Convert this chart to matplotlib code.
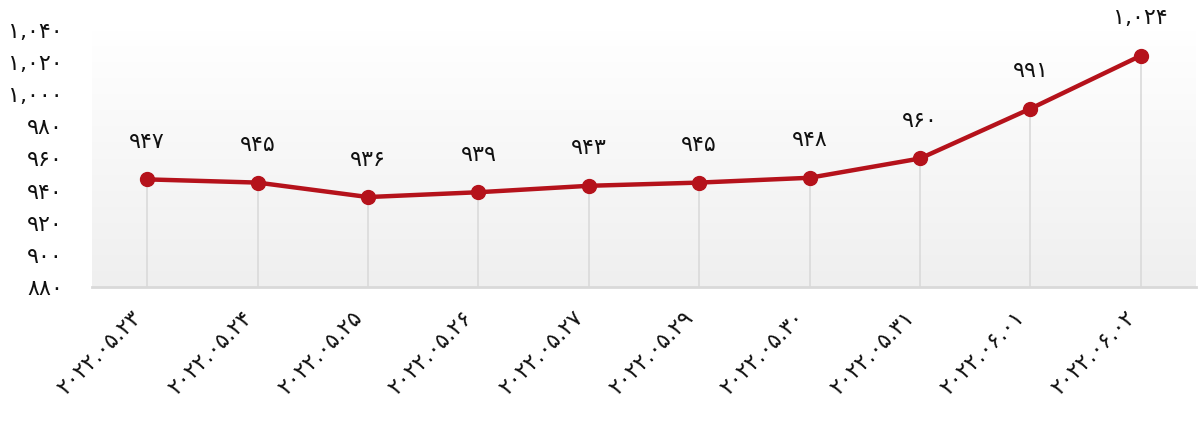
import matplotlib
matplotlib.use("Agg")
import matplotlib.pyplot as plt
import matplotlib.transforms as mtransforms
import numpy as np
from matplotlib.colors import LinearSegmentedColormap

plt.rcParams['font.family'] = ['DejaVu Sans']

categories = ["2022.05.23", "2022.05.24", "2022.05.25", "2022.05.26", "2022.05.27",
              "2022.05.29", "2022.05.30", "2022.05.31", "2022.06.01", "2022.06.02"]
values = [947, 945, 936, 939, 943, 945, 948, 960, 991, 1024]
y_ticks = [880, 900, 920, 940, 960, 980, 1000, 1020, 1040]

PERSIAN = str.maketrans("0123456789", "۰۱۲۳۴۵۶۷۸۹")

def fa(s):
    return str(s).translate(PERSIAN)

def fa_num(v):
    return fa(f"{v:,}")

line_color = "#b5121b"
text_color = "#111111"
FS = 16

fig = plt.figure(figsize=(12, 4.21), dpi=100)
ax = fig.add_axes([92/1200, 1 - 287/421, 1104/1200, 257/421])

x = np.arange(len(values))
ax.set_xlim(-0.5, len(values) - 0.5)
ax.set_ylim(880, 1040)

# gradient background
grad = np.linspace(0, 1, 256).reshape(-1, 1)
cmap = LinearSegmentedColormap.from_list("bg", ["#efefef", "#ffffff"])
ax.imshow(grad, extent=[-0.5, len(values) - 0.5, 880, 1040], origin="lower",
          aspect="auto", cmap=cmap, zorder=0)

# drop lines
ax.vlines(x, 880, values, color="#dcdcdc", linewidth=1.3, zorder=1)

ax.plot(x, values, color=line_color, linewidth=3.2, marker="o", markersize=10,
        markerfacecolor=line_color, markeredgecolor=line_color, zorder=3, clip_on=False)

for xi, v in zip(x, values):
    ax.annotate(fa_num(v), (xi, v), xytext=(0, 27), textcoords="offset points",
                ha="center", va="center", fontsize=FS, color=text_color)

for s in ["top", "right", "left"]:
    ax.spines[s].set_visible(False)
ax.spines["bottom"].set_color("#d9d9d9")
ax.spines["bottom"].set_linewidth(2)

ax.set_yticks(y_ticks)
ax.set_yticklabels([fa_num(t) for t in y_ticks], fontsize=FS, color=text_color)
ax.tick_params(axis="y", length=0, pad=21)

ax.set_xticks(x)
ax.set_xticklabels([fa(c) for c in categories], fontsize=FS, color=text_color,
                   rotation=45, ha="right", va="center", rotation_mode="anchor")
ax.tick_params(axis="x", length=0, pad=20)
offset = mtransforms.ScaledTranslation(-9/100, 0, fig.dpi_scale_trans)
for lbl in ax.get_xticklabels():
    lbl.set_transform(lbl.get_transform() + offset)

fig.savefig("out.png", dpi=100)
